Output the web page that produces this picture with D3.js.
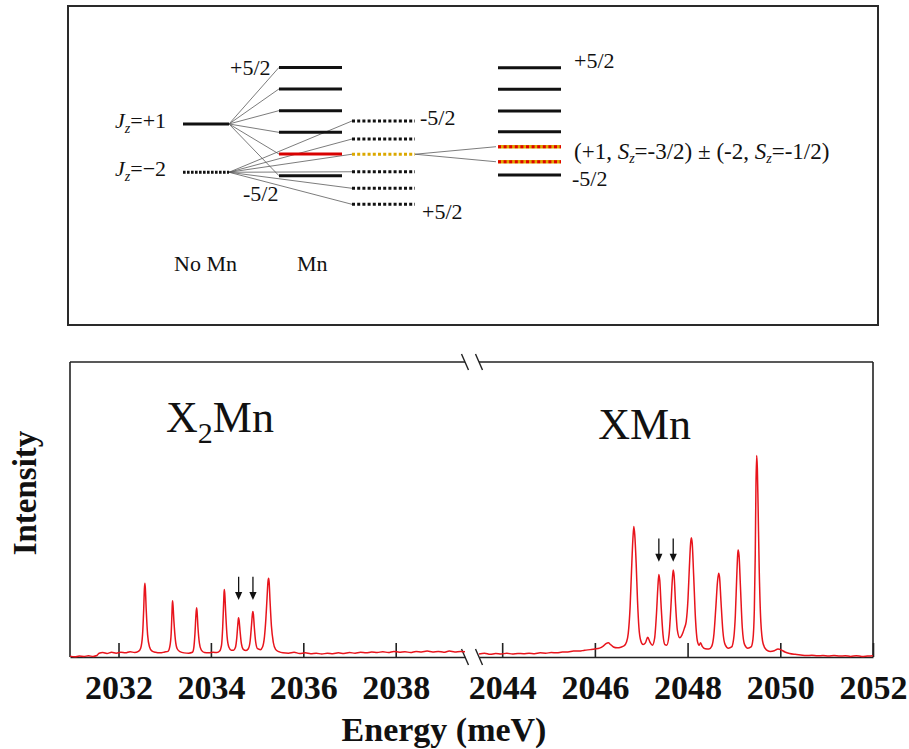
<!DOCTYPE html>
<html>
<head>
<meta charset="utf-8">
<script src="https://cdn.jsdelivr.net/npm/d3@7"></script>
<style>
  html, body { margin: 0; padding: 0; background: #fff; }
  svg { display: block; font-family: "Liberation Serif", "Times New Roman", serif; }
</style>
</head>
<body>
<svg id="fig" width="909" height="749" font-family="'Liberation Serif','Times New Roman',serif"></svg>
<script>
// ---------- PL spectrum: [energy (meV), intensity (arb. units)] ----------
const x2mnSpectrum = [
  [2030.95,0.3],[2031.05,0.1],[2031.15,0.3],[2031.25,0.2],[2031.35,0.4],[2031.45,0.2],[2031.53,0.5],[2031.58,1.3],
  [2031.66,1.5],[2031.75,1.2],[2031.85,1.6],[2031.95,1.3],[2032.05,1.6],[2032.15,1.4],[2032.25,1.8],[2032.35,1.5],[2032.43,1.9],
  [2032.48,3.0],[2032.52,7.5],[2032.545,16],[2032.56,23],[2032.57,25.0],[2032.58,23.5],[2032.60,16],[2032.63,7.5],[2032.67,3.5],
  [2032.72,2.1],[2032.8,1.6],[2032.9,1.4],[2033.0,1.7],[2033.07,1.9],
  [2033.11,3.5],[2033.14,8],[2033.155,14],[2033.165,18],[2033.17,19.1],[2033.18,17.5],[2033.20,12],[2033.23,6],[2033.27,2.8],
  [2033.33,1.8],[2033.42,1.4],[2033.52,1.3],[2033.6,1.6],
  [2033.63,3.2],[2033.655,8],[2033.675,14],[2033.69,16.7],[2033.70,15.5],[2033.72,10],[2033.75,4.8],[2033.79,2.4],[2033.86,1.5],
  [2033.95,1.4],[2034.05,1.6],[2034.13,1.5],[2034.19,2.0],
  [2034.23,4.0],[2034.255,10],[2034.275,18],[2034.285,22],[2034.29,22.9],[2034.30,21.5],[2034.32,15],[2034.35,7],[2034.39,3.3],
  [2034.44,2.3],[2034.49,2.3],[2034.53,3.2],
  [2034.56,6.5],[2034.58,10.5],[2034.595,13],[2034.60,13.3],[2034.61,12.5],[2034.63,9],[2034.66,4.5],[2034.70,2.6],[2034.76,2.2],[2034.81,2.8],
  [2034.85,5.5],[2034.88,11],[2034.90,14.8],[2034.91,15.4],[2034.92,14.5],[2034.94,10],[2034.97,5],[2035.01,2.8],[2035.07,2.5],[2035.12,3.5],
  [2035.16,7],[2035.19,13],[2035.215,20],[2035.235,25.5],[2035.25,26.7],[2035.26,25.5],[2035.28,19],[2035.31,10.5],[2035.35,5],
  [2035.40,2.6],[2035.47,1.8],
  [2035.56,1.4],[2035.68,1.3],[2035.8,1.6],[2035.92,1.2],[2036.04,1.4],[2036.16,1.1],[2036.28,1.3],[2036.4,1.0],[2036.52,1.3],
  [2036.64,1.1],[2036.76,1.4],[2036.88,1.2],[2037.0,1.5],[2037.12,1.3],[2037.24,1.6],[2037.36,1.4],[2037.48,1.7],[2037.6,1.5],
  [2037.72,1.8],[2037.84,1.5],[2037.96,1.9],[2038.08,1.6],[2038.2,1.8],[2038.32,1.5],[2038.44,1.9],[2038.56,1.7],[2038.68,2.0],
  [2038.8,1.7],[2038.92,1.9],[2039.04,1.6],[2039.16,2.0],[2039.28,1.7],[2039.4,1.9],[2039.5,1.8]
];

const xmnSpectrum = [
  [2043.5,1.0],[2043.62,1.3],[2043.74,0.9],[2043.86,1.2],[2043.98,1.0],[2044.1,1.3],[2044.22,1.0],[2044.34,1.2],[2044.46,1.1],
  [2044.58,1.3],[2044.7,1.1],[2044.82,1.4],[2044.94,1.3],[2045.06,1.5],[2045.18,1.4],[2045.3,1.7],[2045.42,1.7],[2045.54,2.0],
  [2045.66,2.0],[2045.78,2.3],[2045.9,2.5],[2046.0,2.7],[2046.1,3.0],[2046.18,3.7],[2046.24,4.5],[2046.29,4.8],[2046.34,4.2],
  [2046.4,3.4],[2046.48,3.1],[2046.56,3.3],[2046.63,3.8],[2046.68,5.0],
  [2046.72,8],[2046.76,17],[2046.79,29],[2046.82,40],[2046.84,44.2],[2046.86,41.5],[2046.89,32],[2046.92,19],[2046.95,10],
  [2046.99,5.5],[2047.04,4.2],[2047.09,4.8],[2047.14,6.7],[2047.19,5.0],[2047.24,4.0],
  [2047.29,6.5],[2047.33,15],[2047.36,24],[2047.38,28],[2047.40,26],[2047.43,17],[2047.47,7.5],[2047.51,4.2],[2047.55,4.0],
  [2047.60,7.5],[2047.64,17],[2047.67,26],[2047.69,29.5],[2047.71,27.5],[2047.74,18],[2047.78,9],[2047.83,6.5],[2047.88,7.5],
  [2047.93,9.7],[2047.97,12],
  [2048.01,20],[2048.04,31],[2048.065,38.5],[2048.08,40.4],[2048.10,38.5],[2048.13,28],[2048.17,13],[2048.21,5.5],[2048.25,4.0],
  [2048.28,4.8],[2048.32,3.5],[2048.38,2.8],[2048.46,2.7],[2048.52,3.6],
  [2048.57,8],[2048.61,17],[2048.645,25.5],[2048.67,28.4],[2048.69,27],[2048.72,19],[2048.76,9],[2048.81,4.2],[2048.88,3.0],[2048.95,3.4],
  [2049.0,7],[2049.03,14],[2049.06,27],[2049.08,34.5],[2049.09,36.3],[2049.11,34.5],[2049.14,24],[2049.18,10],[2049.23,4.2],
  [2049.3,3.0],[2049.37,3.4],
  [2049.41,6],[2049.44,16],[2049.46,35],[2049.475,58],[2049.49,68.3],[2049.505,64],[2049.52,52],[2049.545,30],[2049.58,12],
  [2049.63,4.5],[2049.7,2.4],[2049.78,1.9],[2049.87,2.1],[2049.95,2.7],[2050.02,2.4],[2050.1,1.7],[2050.2,1.2],[2050.32,0.9],
  [2050.44,0.7],[2050.56,0.5],[2050.68,0.6],[2050.8,0.4],[2050.92,0.5],[2051.04,0.3],[2051.16,0.5],[2051.28,0.3],[2051.4,0.4],
  [2051.52,0.2],[2051.64,0.4],[2051.76,0.2],[2051.88,0.3],[2052.0,0.4]
];

const ticksLow  = [2032, 2034, 2036, 2038];
const ticksHigh = [2044, 2046, 2048, 2050, 2052];

// peaks flagged with arrows (energy, meV)
const markedLow  = [2034.60, 2034.91];
const markedHigh = [2047.38, 2047.69];

// ---------- level scheme (arbitrary energy units) ----------
const excitonLevels = [5.15, 2.26];                        // Jz = +1, Jz = -2
const brightLevels  = [8.54, 7.25, 5.95, 4.65, 3.35, 2.05]; // Sz = +5/2 ... -5/2 ; index 4 mixes
const darkLevels    = [5.33, 4.25, 3.34, 2.29, 1.30, 0.34]; // Sz = -5/2 ... +5/2 ; index 2 mixes
const mixedLevels   = [8.52, 7.23, 5.93, 4.69, 3.79, 2.89, 2.10];
const mixedIdx = [4, 5];

const svg = d3.select("#fig");
const serif = "'Liberation Serif','Times New Roman',serif";
const ink = "#111";
const red = "#e8141c";
const gold = "#dba800";

// =================== upper panel: level diagram ===================
svg.append("rect")
  .attr("x", 68).attr("y", 6).attr("width", 810).attr("height", 319)
  .attr("fill", "none").attr("stroke", "#2a2a2a").attr("stroke-width", 2);

const yE = d3.scaleLinear().domain([-1, 9]).range([226.7, 59.7]);
const col = { noMn: [183, 229], bright: [279, 342], dark: [352, 415], mixed: [498, 561] };

const fan = svg.append("g").attr("stroke", "#5a5a5a").attr("stroke-width", 0.8);
brightLevels.forEach(E => fan.append("line")
  .attr("x1", col.noMn[1]).attr("y1", yE(excitonLevels[0]))
  .attr("x2", col.bright[0]).attr("y2", yE(E)));
darkLevels.forEach(E => fan.append("line")
  .attr("x1", col.noMn[1]).attr("y1", yE(excitonLevels[1]))
  .attr("x2", col.dark[0]).attr("y2", yE(E)));
mixedIdx.forEach(i => fan.append("line")
  .attr("x1", col.dark[1]).attr("y1", yE(darkLevels[2]))
  .attr("x2", col.mixed[0] - 2).attr("y2", yE(mixedLevels[i])));

function level(x, E, style) {
  const g = svg.append("g");
  const ln = () => g.append("line").attr("x1", x[0]).attr("x2", x[1])
    .attr("y1", yE(E)).attr("y2", yE(E)).attr("stroke-width", 3);
  if (style === "solid") ln().attr("stroke", ink);
  if (style === "red") ln().attr("stroke", "#d80000");
  if (style === "dotted") ln().attr("stroke", ink).attr("stroke-dasharray", "3,2.2");
  if (style === "dottedFine") ln().attr("stroke", ink).attr("stroke-dasharray", "2.6,1.4");
  if (style === "gold") ln().attr("stroke", gold).attr("stroke-dasharray", "3,2.2");
  if (style === "mixed") {
    ln().attr("stroke", gold).attr("stroke-width", 3.5);
    ln().attr("stroke", "#e00000").attr("stroke-dasharray", "3,2.6");
  }
}
level(col.noMn, excitonLevels[0], "solid");
level(col.noMn, excitonLevels[1], "dottedFine");
brightLevels.forEach((E, i) => level(col.bright, E, i === 4 ? "red" : "solid"));
darkLevels.forEach((E, i) => level(col.dark, E, i === 2 ? "gold" : "dotted"));
mixedLevels.forEach((E, i) => level(col.mixed, E, mixedIdx.includes(i) ? "mixed" : "solid"));

const dgm = svg.append("g").attr("font-family", serif).attr("font-size", 22).attr("fill", ink);
function jz(x, E, val) {
  const t = dgm.append("text").attr("x", x).attr("y", yE(E) + 4).attr("font-size", 22);
  t.append("tspan").attr("font-style", "italic").text("J");
  t.append("tspan").attr("font-style", "italic").attr("font-size", 14).attr("dy", 5).text("z");
  t.append("tspan").attr("dy", -5).text(val);
}
jz(115, excitonLevels[0], "=+1");
jz(115, excitonLevels[1], "=−2");

dgm.append("text").attr("x", col.bright[0] - 49).attr("y", yE(brightLevels[0]) + 8).text("+5/2");
dgm.append("text").attr("x", col.bright[0] - 36).attr("y", yE(brightLevels[5]) + 25).text("-5/2");
dgm.append("text").attr("x", col.dark[1] + 5).attr("y", yE(darkLevels[0]) + 4).text("-5/2");
dgm.append("text").attr("x", col.dark[1] + 7).attr("y", yE(darkLevels[5]) + 15).text("+5/2");
dgm.append("text").attr("x", col.mixed[1] + 13).attr("y", yE(mixedLevels[0])).text("+5/2");
dgm.append("text").attr("x", col.mixed[1] + 11).attr("y", yE(mixedLevels[6]) + 11).text("-5/2");

const mixLbl = dgm.append("text").attr("x", col.mixed[1] + 13).attr("font-size", 23)
  .attr("y", (yE(mixedLevels[4]) + yE(mixedLevels[5])) / 2 + 5);
mixLbl.append("tspan").text("(+1, ");
mixLbl.append("tspan").attr("font-style", "italic").text("S");
mixLbl.append("tspan").attr("font-style", "italic").attr("font-size", 14).attr("dy", 4).text("z");
mixLbl.append("tspan").attr("dy", -4).text("=-3/2) ± (-2, ");
mixLbl.append("tspan").attr("font-style", "italic").text("S");
mixLbl.append("tspan").attr("font-style", "italic").attr("font-size", 14).attr("dy", 4).text("z");
mixLbl.append("tspan").attr("dy", -4).text("=-1/2)");

dgm.append("text").attr("x", 174).attr("y", 271).text("No Mn");
dgm.append("text").attr("x", 297).attr("y", 271).text("Mn");

// =================== lower panel: spectrum with broken axis ===================
const xLow  = d3.scaleLinear().domain([2030.95, 2039.5]).range([70, 465]);
const xHigh = d3.scaleLinear().domain([2043.5, 2052]).range([479, 873]);
const y = d3.scaleLinear().domain([0, 100]).range([657, 362]);

const frame = svg.append("g").attr("stroke", "#222").attr("stroke-width", 1.6).attr("fill", "none");
frame.append("line").attr("x1", xLow.range()[0]).attr("x2", xLow.range()[0]).attr("y1", y(0)).attr("y2", y(100));
frame.append("line").attr("x1", xHigh.range()[1]).attr("x2", xHigh.range()[1]).attr("y1", y(0)).attr("y2", y(100));
[xLow, xHigh].forEach(s => {
  frame.append("line").attr("x1", s.range()[0]).attr("x2", s.range()[1]).attr("y1", y(100)).attr("y2", y(100));
});

function axis(scale, ticks) {
  const g = svg.append("g").attr("transform", `translate(0,${y(0)})`)
    .call(d3.axisBottom(scale).tickValues(ticks).tickFormat(d3.format("d"))
      .tickSizeInner(-14).tickSizeOuter(0).tickPadding(18));
  g.attr("font-family", serif);
  g.select(".domain").attr("stroke", "#222").attr("stroke-width", 1.6);
  g.selectAll(".tick line").attr("stroke", "#222").attr("stroke-width", 1.6);
  g.selectAll(".tick text")
    .attr("font-family", serif)
    .attr("font-size", 34).attr("font-weight", "bold").attr("fill", ink);
}
axis(xLow, ticksLow);
axis(xHigh, ticksHigh);

// break marks
const brk = svg.append("g").attr("stroke", "#222").attr("stroke-width", 1.4);
[y(100), y(0)].forEach(yy => {
  [xLow.range()[1], xHigh.range()[0]].forEach(xx => {
    brk.append("line").attr("x1", xx - 3.5).attr("y1", yy - 8).attr("x2", xx + 3.5).attr("y2", yy + 8);
  });
});

// spectrum traces
const lineLow = d3.line().x(d => xLow(d[0])).y(d => y(d[1])).curve(d3.curveMonotoneX);
const lineHigh = d3.line().x(d => xHigh(d[0])).y(d => y(d[1])).curve(d3.curveMonotoneX);
svg.append("path").datum(x2mnSpectrum).attr("d", lineLow)
  .attr("fill", "none").attr("stroke", red).attr("stroke-width", 1.5).attr("stroke-linejoin", "round");
svg.append("path").datum(xmnSpectrum).attr("d", lineHigh)
  .attr("fill", "none").attr("stroke", red).attr("stroke-width", 1.5).attr("stroke-linejoin", "round");

// arrows over the flagged peaks
function arrows(scale, energies, tail, tip) {
  energies.forEach(E => {
    const x = scale(E), y0 = y(tail), y1 = y(tip);
    svg.append("line").attr("x1", x).attr("x2", x).attr("y1", y0).attr("y2", y1 - 6)
      .attr("stroke", ink).attr("stroke-width", 1.3);
    svg.append("path").attr("d", `M${x - 3.6},${y1 - 8}L${x + 3.6},${y1 - 8}L${x},${y1}Z`).attr("fill", ink);
  });
}
arrows(xLow, markedLow, 27.2, 19.3);
arrows(xHigh, markedHigh, 40.2, 32.3);

// series labels
const lbl1 = svg.append("text").attr("x", xLow(2033.03)).attr("y", y(76.3))
  .attr("font-family", serif).attr("font-size", 44).attr("fill", ink);
lbl1.append("tspan").text("X");
lbl1.append("tspan").attr("font-size", 30).attr("dy", 11).text("2");
lbl1.append("tspan").attr("dy", -11).text("Mn");
svg.append("text").attr("x", xHigh(2046.07)).attr("y", y(73.9))
  .attr("font-family", serif).attr("font-size", 44).attr("fill", ink).text("XMn");

// axis titles
svg.append("text").attr("x", 444).attr("y", 741).attr("text-anchor", "middle")
  .attr("font-family", serif).attr("font-size", 34).attr("font-weight", "bold").attr("fill", ink).text("Energy (meV)");
svg.append("text").attr("transform", "translate(36,493) rotate(-90)").attr("text-anchor", "middle")
  .attr("font-family", serif).attr("font-size", 33).attr("font-weight", "bold").attr("fill", ink).text("Intensity");
</script>
</body>
</html>
